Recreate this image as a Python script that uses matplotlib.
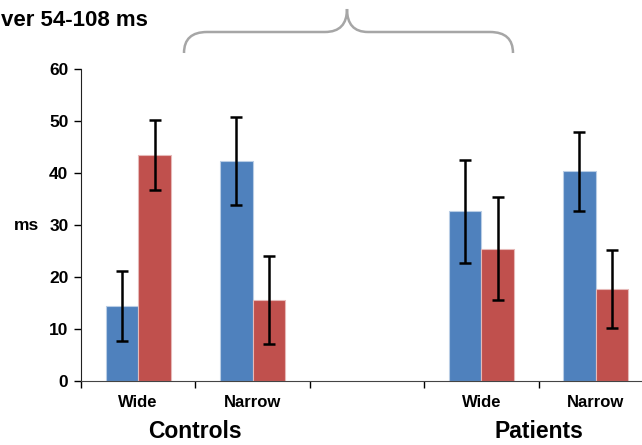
import matplotlib
matplotlib.use("Agg")
import matplotlib.pyplot as plt
import numpy as np
from matplotlib.path import Path
from matplotlib.patches import PathPatch

plt.rcParams['font.family'] = ['Liberation Sans', 'DejaVu Sans']
plt.rcParams['font.weight'] = 'bold'

# slots 0..4, slot 2 is the empty gap between groups
slots = [0, 1, 3, 4]
cond_labels = ['Wide', 'Narrow', 'Wide', 'Narrow']
groups = ['Controls', 'Patients']
blue_vals = [14.4, 42.3, 32.6, 40.3]
blue_err = [6.7, 8.5, 9.9, 7.6]
red_vals = [43.4, 15.6, 25.4, 17.6]
red_err = [6.7, 8.5, 9.9, 7.5]

fig = plt.figure(figsize=(6.42, 4.45), dpi=100)
W, H = 642.0, 445.0
# axes spans 5 slots, last one runs a bit past the right edge
ax = fig.add_axes([81 / W, 64 / H, 572 / W, 312 / H])

bw = 0.285
x = np.array(slots, dtype=float)
ax.bar(x - bw / 2, blue_vals, bw, color='#4F81BD', edgecolor='#B9CDE5', linewidth=0.8,
       yerr=blue_err, error_kw=dict(ecolor='black', elinewidth=1.8, capsize=4, capthick=1.8))
ax.bar(x + bw / 2, red_vals, bw, color='#C0504D', edgecolor='#E6B9B8', linewidth=0.8,
       yerr=red_err, error_kw=dict(ecolor='black', elinewidth=1.8, capsize=4, capthick=1.8))

ax.set_xlim(-0.5, 4.5)
ax.set_ylim(0, 60)
ax.set_yticks(range(0, 61, 10))
ax.tick_params(axis='y', direction='out', length=5, width=1, labelsize=12.5, pad=4)
for t in ax.get_yticklabels():
    t.set_fontweight('bold')

ax.set_xticks([-0.5, 0.5, 1.5, 2.5, 3.5, 4.5])
ax.set_xticklabels([])
ax.tick_params(axis='x', direction='out', length=5, width=1)
for s, lab in zip(slots, cond_labels):
    ax.text(s, -4.2, lab, ha='center', va='center', fontsize=12, fontweight='bold')
for gx, g in zip([0.5, 3.5], groups):
    ax.text(gx, -9.7, g, ha='center', va='center', fontsize=16.5, fontweight='bold')

ax.spines['top'].set_visible(False)
ax.spines['right'].set_visible(False)
ax.spines['left'].set_color('#222222')
ax.spines['bottom'].set_color('#444444')

fig.text(14 / W, 1 - 226 / H, 'ms', ha='left', va='center', fontsize=12.5, fontweight='bold')
fig.text(1 / W, 1 - 21 / H, 'ver 54-108 ms', ha='left', va='center', fontsize=16, fontweight='bold')

# curly brace over the panel
pts = [(184, 53), (184, 32), (207, 32), (325, 32), (347, 32), (347, 9),
       (347, 32), (368, 32), (490, 32), (513, 32), (513, 53)]
codes = [Path.MOVETO, Path.CURVE3, Path.CURVE3, Path.LINETO, Path.CURVE3, Path.CURVE3,
         Path.CURVE3, Path.CURVE3, Path.LINETO, Path.CURVE3, Path.CURVE3]
verts = [(px / W, 1 - py / H) for px, py in pts]
brace = PathPatch(Path(verts, codes), transform=fig.transFigure, fill=False,
                  edgecolor='#A6A6A6', linewidth=1.8)
fig.patches.append(brace)

fig.savefig('out.png', dpi=100)
